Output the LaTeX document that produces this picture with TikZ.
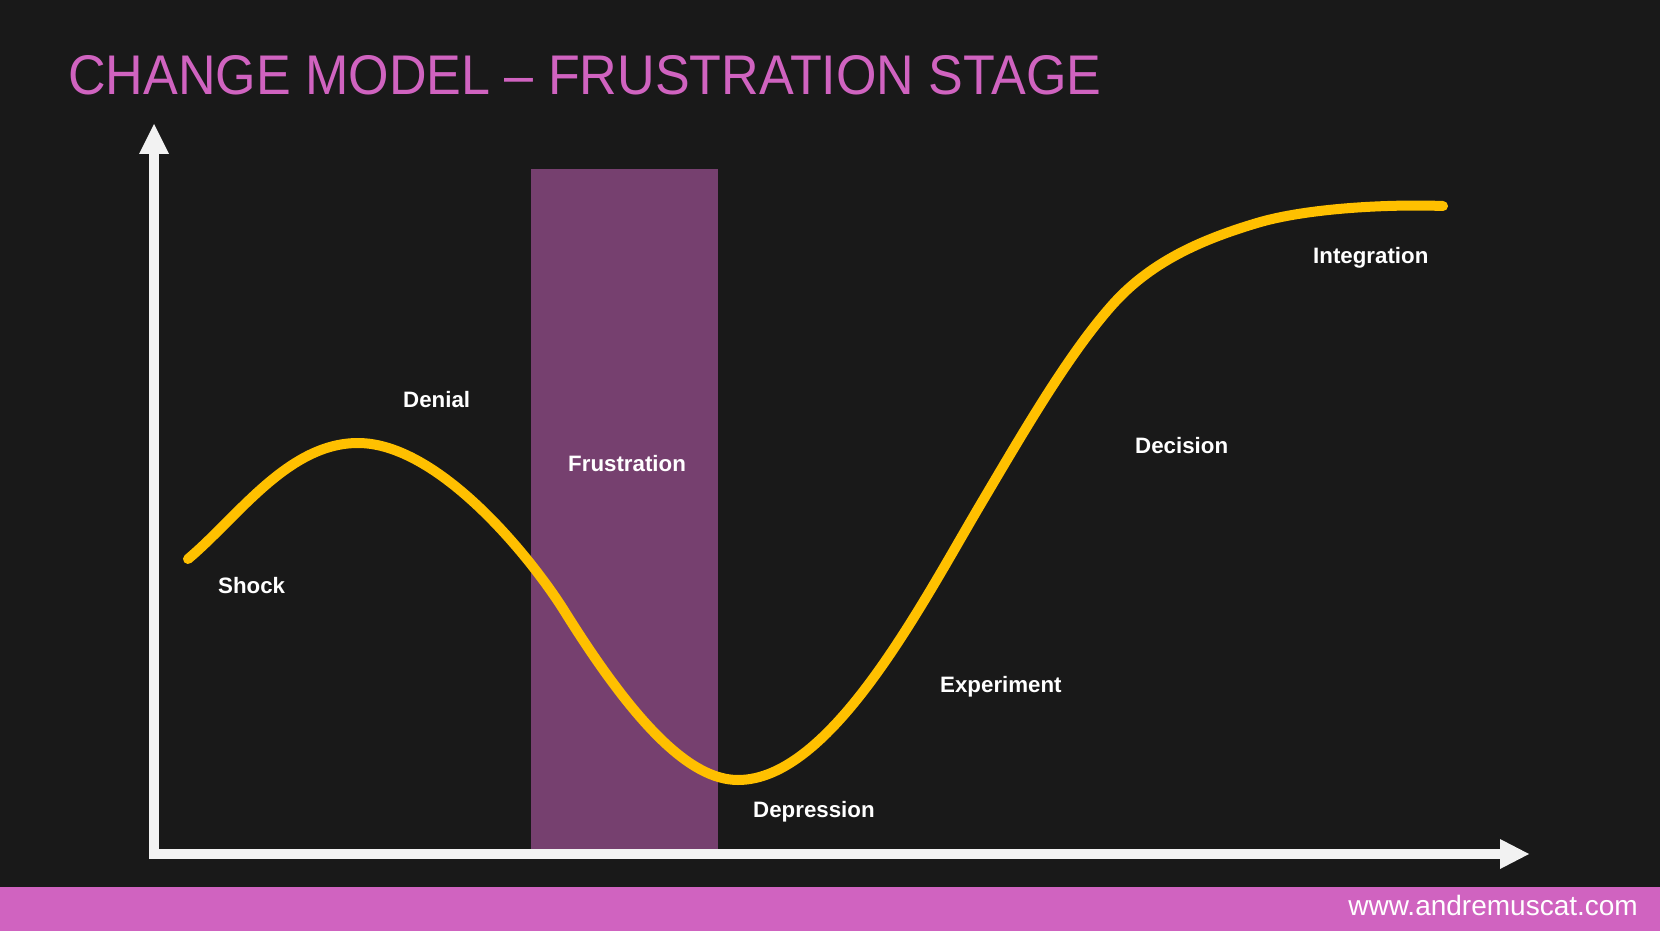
\documentclass[tikz,border=0pt]{standalone}
\usepackage{graphicx}
\usepackage{fontspec}
\setmainfont{Liberation Sans}
\definecolor{bg}{HTML}{191919}
\definecolor{pinkc}{HTML}{D063C0}
\definecolor{bandc}{HTML}{76406F}
\definecolor{curvec}{HTML}{FFC000}
\definecolor{axisc}{HTML}{F2F2F2}
\begin{document}
\begin{tikzpicture}[x=1pt,y=-1pt,
  lbl/.style={text=white, font=\bfseries\fontsize{22.3}{27}\selectfont, inner sep=0pt, anchor=base west},
  axisline/.style={draw=axisc, line width=10pt, line cap=butt},
  axishead/.style={fill=axisc},
  curveline/.style={draw=curvec, line width=10pt, line cap=round, line join=round}]
\useasboundingbox (0,0) rectangle (1660,931);
\fill[bg] (0,0) rectangle (1660,931);
% footer band
\fill[pinkc] (0,887) rectangle (1660,931);
\node[text=white, font=\fontsize{28}{32}\selectfont, inner sep=0pt, anchor=base east] (url) at (1638,915) {www.andremuscat.com};
% title
\node[text=pinkc, font=\fontsize{55.9}{60}\selectfont, inner sep=0pt, anchor=base west] (title) at (68,95) {\scalebox{0.931}[1]{CHANGE MODEL – FRUSTRATION STAGE}};
% frustration band
\fill[bandc] (531,169) rectangle (718,849);
% axes
\coordinate (O) at (154,859);
\coordinate (ybase) at (154,154);
\coordinate (ytip) at (154,124);
\coordinate (xstart) at (149,854);
\coordinate (xbase) at (1500,854);
\coordinate (xtip) at (1529,854);
\draw[axisline] (O) -- (ybase);
\fill[axishead] (ytip) -- ++(-15,30) -- ++(30,0) -- cycle;
\draw[axisline] (xstart) -- (xbase);
\fill[axishead] (xtip) -- ++(-29,-15) -- ++(0,30) -- cycle;
% curve
\draw[curveline] (188,559) .. controls (238,517) and (288,443) .. (358,443)
 .. controls (438,443) and (530,556) .. (565,612)
 .. controls (635,724) and (690,780) .. (738,780)
 .. controls (830,780) and (919,609) .. (979,507)
 .. controls (1024,431) and (1069,353) .. (1114,303)
 .. controls (1154,259) and (1207,238) .. (1257,223)
 .. controls (1307,208) and (1390,204) .. (1443,206);
% labels
\node[lbl] (shock) at (218,593) {Shock};
\node[lbl] (denial) at (403,407) {Denial};
\node[lbl] (frustration) at (568,471) {Frustration};
\node[lbl] (depression) at (753,817) {Depression};
\node[lbl] (experiment) at (940,692) {Experiment};
\node[lbl] (decision) at (1135,453) {Decision};
\node[lbl] (integration) at (1313,263) {Integration};
\end{tikzpicture}
\end{document}
